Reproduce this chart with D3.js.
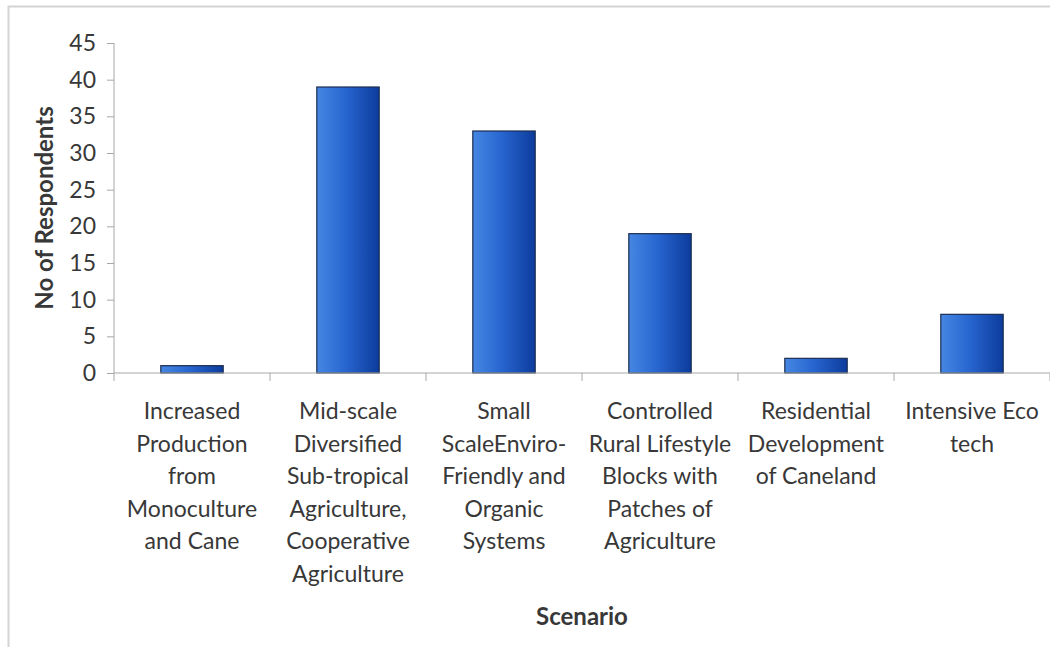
<!DOCTYPE html>
<html><head><meta charset="utf-8">
<script src="https://cdn.jsdelivr.net/npm/d3@7"></script>
<style>body{margin:0;background:#fff}svg{display:block}</style>
</head><body>
<svg id="c" width="1050" height="647"></svg>
<script>
const categories = [
  ["Increased","Production","from","Monoculture","and Cane"],
  ["Mid-scale","Diversified","Sub-tropical","Agriculture,","Cooperative","Agriculture"],
  ["Small","ScaleEnviro-","Friendly and","Organic","Systems"],
  ["Controlled","Rural Lifestyle","Blocks with","Patches of","Agriculture"],
  ["Residential","Development","of Caneland"],
  ["Intensive Eco","tech"]
];
const values = [1, 39, 33, 19, 2, 8];
const yTicks = [0,5,10,15,20,25,30,35,40,45];

const svg = d3.select("#c");
const font = "Lato, 'Open Sans', sans-serif";
const textCol = "#383838";

// outer border
svg.append("rect").attr("x",8.5).attr("y",6.5).attr("width",1100).attr("height",700)
  .attr("fill","none").attr("stroke","#d4d4d4").attr("stroke-width",2);

const defs = svg.append("defs");
const g = defs.append("linearGradient").attr("id","bg").attr("x1","0").attr("x2","1").attr("y1","0").attr("y2","0");
g.append("stop").attr("offset","0%").attr("stop-color","#4587e2");
g.append("stop").attr("offset","45%").attr("stop-color","#2866d0");
g.append("stop").attr("offset","100%").attr("stop-color","#0c3c9c");

const x = d3.scaleBand().domain(d3.range(values.length)).range([114,1050]).paddingInner(0.6).paddingOuter(0.3);
const xb = d3.scaleBand().domain(d3.range(values.length)).range([114,1050]);
const y = d3.scaleLinear().domain([0,45]).range([373,43]);

// bars
svg.selectAll("rect.bar").data(values).join("rect").attr("class","bar")
  .attr("x",(d,i)=>x(i)).attr("width",x.bandwidth())
  .attr("y",d=>y(d)).attr("height",d=>y(0)-y(d))
  .attr("fill","url(#bg)").attr("stroke","#1c2d52").attr("stroke-width",1.2);

// y axis
const ya = svg.append("g").attr("transform","translate(114,0)")
  .call(d3.axisLeft(y).tickValues(yTicks).tickSize(7).tickPadding(11));
ya.select(".domain").attr("stroke","#a8a8a8").attr("d","M0,"+y(45)+"V"+y(0));
ya.selectAll(".tick line").attr("stroke","#a8a8a8");
ya.selectAll(".tick text").attr("font-family",font).attr("font-size",23).attr("fill",textCol);

// x axis
const xa = svg.append("g").attr("transform","translate(0,373)");
xa.append("line").attr("x1",114).attr("x2",1050).attr("stroke","#a8a8a8");
xa.selectAll("line.t").data(d3.range(values.length+1)).join("line").attr("class","t")
  .attr("x1",i=>i<values.length?xb(i):1050).attr("x2",i=>i<values.length?xb(i):1050)
  .attr("y1",0).attr("y2",8).attr("stroke","#a8a8a8");

svg.selectAll("text.xl").data(categories).join("text").attr("class","xl")
  .attr("font-family",font).attr("font-size",23).attr("fill",textCol).attr("text-anchor","middle")
  .each(function(lines,i){
    d3.select(this).selectAll("tspan").data(lines).join("tspan")
      .attr("x",xb(i)+xb.bandwidth()/2).attr("y",(d,j)=>419+j*32.5).text(d=>d);
  });

svg.append("text").attr("x",582).attr("y",625).attr("text-anchor","middle")
  .attr("font-family",font).attr("font-size",24).attr("font-weight","bold").attr("fill",textCol).text("Scenario");
svg.append("text").attr("transform","translate(53,208) rotate(-90)").attr("text-anchor","middle")
  .attr("font-family",font).attr("font-size",24).attr("font-weight","bold").attr("fill",textCol).text("No of Respondents");
</script>
</body></html>
